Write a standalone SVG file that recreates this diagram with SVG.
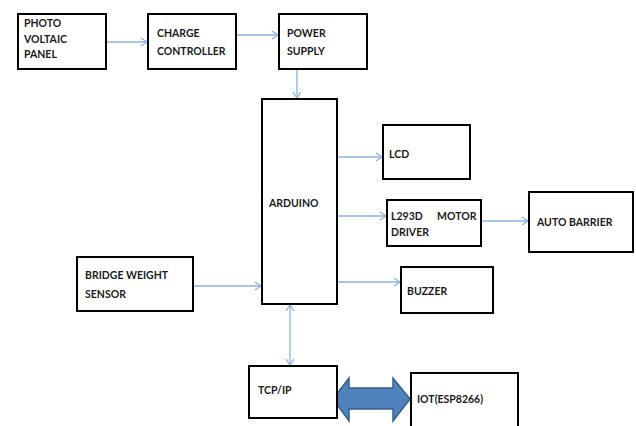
<svg xmlns="http://www.w3.org/2000/svg" width="636" height="426" viewBox="0 0 636 426">
<defs>
<style>
.box{fill:#fff;stroke:#000;stroke-width:2}
.t{font-family:Lato,"Liberation Sans",Arial,sans-serif;font-weight:bold;font-size:10.5px;fill:#1a1a1a}
.c{stroke:#8db3e2;stroke-width:1.3;fill:none}
</style>
<marker id="ah" viewBox="0 0 8 10" refX="7" refY="5" markerWidth="8" markerHeight="10" markerUnits="userSpaceOnUse" orient="auto-start-reverse">
<path d="M1,1 L7,5 L1,9" fill="none" stroke="#8db3e2" stroke-width="1.3"/>
</marker>
</defs>
<rect width="636" height="426" fill="#fff"/>
<g id="connectors">
<line class="c" x1="106" y1="42" x2="147" y2="42" marker-end="url(#ah)"/>
<line class="c" x1="236" y1="35" x2="278" y2="35" marker-end="url(#ah)"/>
<line class="c" x1="297" y1="69" x2="297" y2="98" marker-end="url(#ah)"/>
<line class="c" x1="337" y1="157" x2="382" y2="157" marker-end="url(#ah)"/>
<line class="c" x1="337" y1="216" x2="386" y2="216" marker-end="url(#ah)"/>
<line class="c" x1="481" y1="221" x2="528" y2="221" marker-end="url(#ah)"/>
<line class="c" x1="337" y1="282" x2="400" y2="282" marker-end="url(#ah)"/>
<line class="c" x1="193" y1="286" x2="261" y2="286" marker-end="url(#ah)"/>
<line class="c" x1="290" y1="305" x2="290" y2="365" marker-start="url(#ah)" marker-end="url(#ah)"/>
<path d="M333,399 L349,378 L349,388 L393,388 L393,378 L410,399 L393,421 L393,409 L349,409 L349,421 Z" fill="#4f81bd" stroke="#385d8a" stroke-width="1.5"/>
</g>
<g id="pv"><rect class="box" x="18" y="14" width="88" height="55"/>
<text class="t" x="24" y="27">PHOTO</text><text class="t" x="24" y="43">VOLTAIC</text><text class="t" x="24" y="58">PANEL</text></g>
<g id="cc"><rect class="box" x="148" y="14" width="88" height="55"/>
<text class="t" x="157" y="37">CHARGE</text><text class="t" x="157" y="55">CONTROLLER</text></g>
<g id="ps"><rect class="box" x="279" y="14" width="88" height="55"/>
<text class="t" x="287" y="37">POWER</text><text class="t" x="287" y="55">SUPPLY</text></g>
<g id="arduino"><rect class="box" x="262" y="99" width="75" height="205"/>
<text class="t" x="269" y="207">ARDUINO</text></g>
<g id="lcd"><rect class="box" x="383" y="125" width="87" height="54"/>
<text class="t" x="389" y="158">LCD</text></g>
<g id="l293d"><rect class="box" x="387" y="200" width="94" height="46"/>
<text class="t" x="391" y="220">L293D</text><text class="t" x="437" y="220">MOTOR</text><text class="t" x="391" y="236">DRIVER</text></g>
<g id="barrier"><rect class="box" x="529" y="192" width="104" height="60"/>
<text class="t" x="537" y="226">AUTO</text><text class="t" x="569" y="226">BARRIER</text></g>
<g id="buzzer"><rect class="box" x="401" y="267" width="92" height="46"/>
<text class="t" x="407" y="295">BUZZER</text></g>
<g id="sensor"><rect class="box" x="77" y="257" width="116" height="54"/>
<text class="t" x="85" y="279">BRIDGE WEIGHT</text><text class="t" x="85" y="298">SENSOR</text></g>
<g id="tcpip"><rect class="box" x="249" y="366" width="88" height="52"/>
<text class="t" x="258" y="394">TCP/IP</text></g>
<g id="iot"><rect class="box" x="411" y="373" width="107" height="60"/>
<text class="t" x="417" y="403">IOT(ESP8266)</text></g>
</svg>
